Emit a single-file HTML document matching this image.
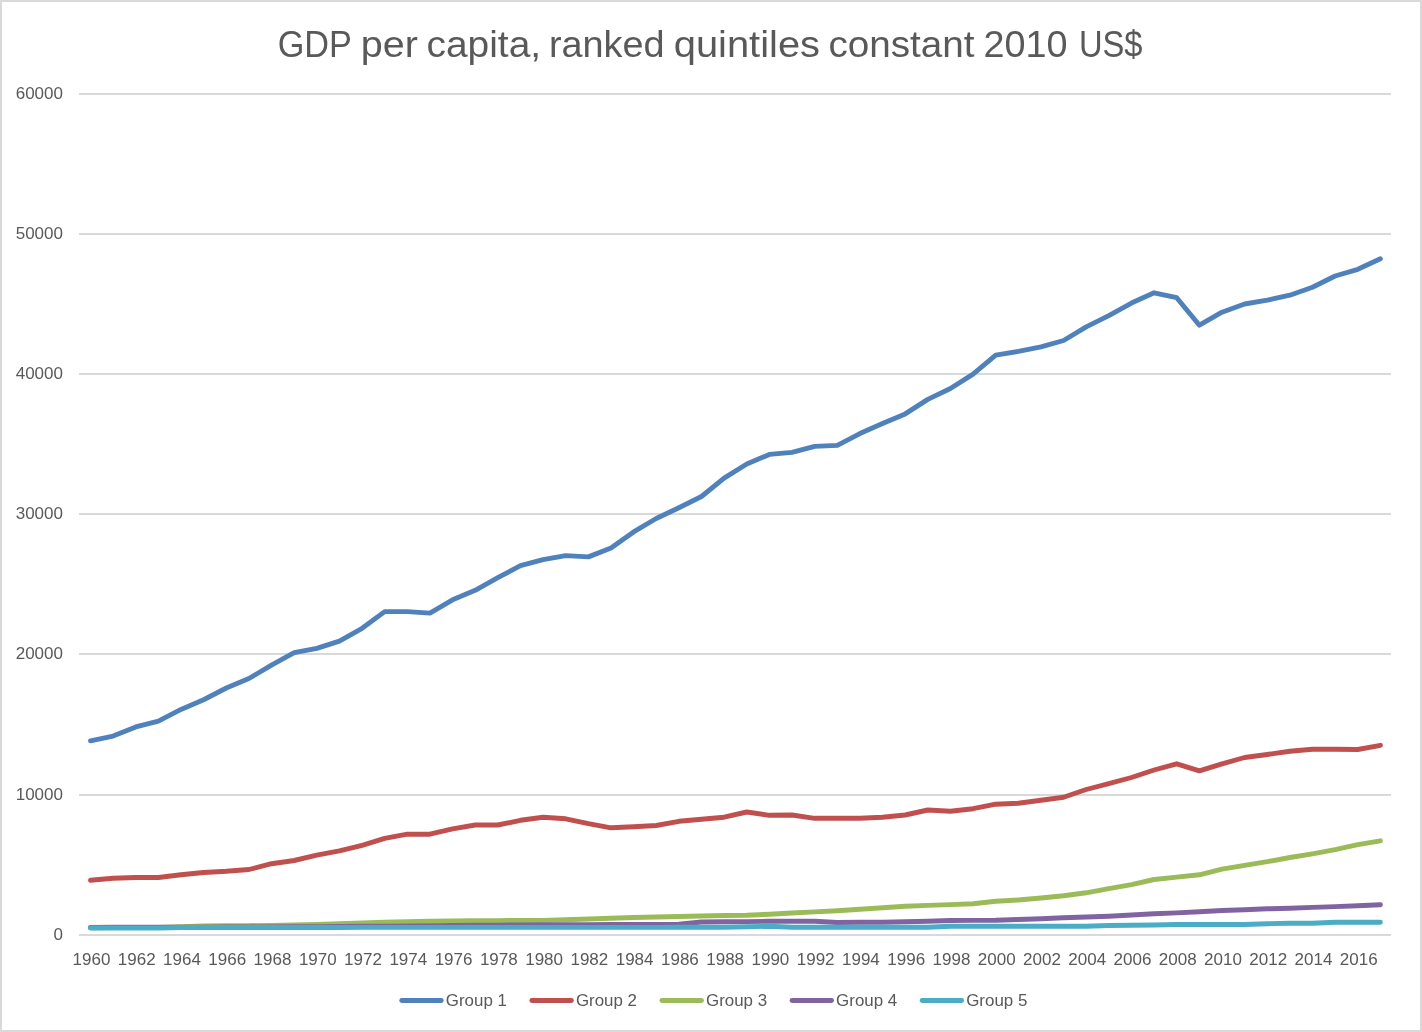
<!DOCTYPE html>
<html lang="en">
<head>
<meta charset="utf-8">
<title>GDP per capita, ranked quintiles constant 2010 US$</title>
<style>
html,body{margin:0;padding:0;background:#fff;}
body{width:1422px;height:1032px;overflow:hidden;}
svg{display:block;}
text{font-family:"Liberation Sans",sans-serif;fill:#595959;}
.t{font-size:37.5px;}
.s{font-size:16.9px;}
.g line{stroke:#D9D9D9;stroke-width:2;}
.l path{fill:none;stroke-width:4.9;stroke-linecap:round;stroke-linejoin:round;}
</style>
</head>
<body>
<svg width="1422" height="1032" viewBox="0 0 1422 1032">
<rect x="0" y="0" width="1422" height="1032" fill="#fff"/>
<rect x="1" y="1" width="1420" height="1030" fill="none" stroke="#D9D9D9" stroke-width="2"/>
<text class="t" y="56.90"><tspan x="277.70" textLength="73.60" lengthAdjust="spacingAndGlyphs">GDP</tspan> <tspan x="360.88" textLength="57.12" lengthAdjust="spacingAndGlyphs">per</tspan> <tspan x="426.45" textLength="114.71" lengthAdjust="spacingAndGlyphs">capita,</tspan> <tspan x="548.92" textLength="115.66" lengthAdjust="spacingAndGlyphs">ranked</tspan> <tspan x="673.75" textLength="146.28" lengthAdjust="spacingAndGlyphs">quintiles</tspan> <tspan x="828.47" textLength="146.03" lengthAdjust="spacingAndGlyphs">constant</tspan> <tspan x="983.42" textLength="84.13" lengthAdjust="spacingAndGlyphs">2010</tspan> <tspan x="1078.93" textLength="63.60" lengthAdjust="spacingAndGlyphs">US$</tspan></text>
<g class="g">
<line x1="79" y1="935.00" x2="1391" y2="935.00"/>
<line x1="79" y1="795.00" x2="1391" y2="795.00"/>
<line x1="79" y1="654.00" x2="1391" y2="654.00"/>
<line x1="79" y1="514.00" x2="1391" y2="514.00"/>
<line x1="79" y1="374.00" x2="1391" y2="374.00"/>
<line x1="79" y1="234.00" x2="1391" y2="234.00"/>
<line x1="79" y1="94.00" x2="1391" y2="94.00"/>
</g>
<g class="s">
<text x="63" y="940.00" text-anchor="end" textLength="9.46" lengthAdjust="spacingAndGlyphs">0</text>
<text x="63" y="800.00" text-anchor="end" textLength="47.30" lengthAdjust="spacingAndGlyphs">10000</text>
<text x="63" y="659.00" text-anchor="end" textLength="47.30" lengthAdjust="spacingAndGlyphs">20000</text>
<text x="63" y="519.00" text-anchor="end" textLength="47.30" lengthAdjust="spacingAndGlyphs">30000</text>
<text x="63" y="379.00" text-anchor="end" textLength="47.30" lengthAdjust="spacingAndGlyphs">40000</text>
<text x="63" y="239.00" text-anchor="end" textLength="47.30" lengthAdjust="spacingAndGlyphs">50000</text>
<text x="63" y="99.00" text-anchor="end" textLength="47.30" lengthAdjust="spacingAndGlyphs">60000</text>
<text x="91.50" y="964.8" text-anchor="middle" textLength="37.85" lengthAdjust="spacingAndGlyphs">1960</text>
<text x="136.76" y="964.8" text-anchor="middle" textLength="37.85" lengthAdjust="spacingAndGlyphs">1962</text>
<text x="182.02" y="964.8" text-anchor="middle" textLength="37.85" lengthAdjust="spacingAndGlyphs">1964</text>
<text x="227.28" y="964.8" text-anchor="middle" textLength="37.85" lengthAdjust="spacingAndGlyphs">1966</text>
<text x="272.54" y="964.8" text-anchor="middle" textLength="37.85" lengthAdjust="spacingAndGlyphs">1968</text>
<text x="317.80" y="964.8" text-anchor="middle" textLength="37.85" lengthAdjust="spacingAndGlyphs">1970</text>
<text x="363.06" y="964.8" text-anchor="middle" textLength="37.85" lengthAdjust="spacingAndGlyphs">1972</text>
<text x="408.32" y="964.8" text-anchor="middle" textLength="37.85" lengthAdjust="spacingAndGlyphs">1974</text>
<text x="453.58" y="964.8" text-anchor="middle" textLength="37.85" lengthAdjust="spacingAndGlyphs">1976</text>
<text x="498.84" y="964.8" text-anchor="middle" textLength="37.85" lengthAdjust="spacingAndGlyphs">1978</text>
<text x="544.10" y="964.8" text-anchor="middle" textLength="37.85" lengthAdjust="spacingAndGlyphs">1980</text>
<text x="589.36" y="964.8" text-anchor="middle" textLength="37.85" lengthAdjust="spacingAndGlyphs">1982</text>
<text x="634.62" y="964.8" text-anchor="middle" textLength="37.85" lengthAdjust="spacingAndGlyphs">1984</text>
<text x="679.88" y="964.8" text-anchor="middle" textLength="37.85" lengthAdjust="spacingAndGlyphs">1986</text>
<text x="725.14" y="964.8" text-anchor="middle" textLength="37.85" lengthAdjust="spacingAndGlyphs">1988</text>
<text x="770.40" y="964.8" text-anchor="middle" textLength="37.85" lengthAdjust="spacingAndGlyphs">1990</text>
<text x="815.66" y="964.8" text-anchor="middle" textLength="37.85" lengthAdjust="spacingAndGlyphs">1992</text>
<text x="860.92" y="964.8" text-anchor="middle" textLength="37.85" lengthAdjust="spacingAndGlyphs">1994</text>
<text x="906.18" y="964.8" text-anchor="middle" textLength="37.85" lengthAdjust="spacingAndGlyphs">1996</text>
<text x="951.44" y="964.8" text-anchor="middle" textLength="37.85" lengthAdjust="spacingAndGlyphs">1998</text>
<text x="996.70" y="964.8" text-anchor="middle" textLength="37.85" lengthAdjust="spacingAndGlyphs">2000</text>
<text x="1041.96" y="964.8" text-anchor="middle" textLength="37.85" lengthAdjust="spacingAndGlyphs">2002</text>
<text x="1087.22" y="964.8" text-anchor="middle" textLength="37.85" lengthAdjust="spacingAndGlyphs">2004</text>
<text x="1132.48" y="964.8" text-anchor="middle" textLength="37.85" lengthAdjust="spacingAndGlyphs">2006</text>
<text x="1177.74" y="964.8" text-anchor="middle" textLength="37.85" lengthAdjust="spacingAndGlyphs">2008</text>
<text x="1223.00" y="964.8" text-anchor="middle" textLength="37.85" lengthAdjust="spacingAndGlyphs">2010</text>
<text x="1268.26" y="964.8" text-anchor="middle" textLength="37.85" lengthAdjust="spacingAndGlyphs">2012</text>
<text x="1313.52" y="964.8" text-anchor="middle" textLength="37.85" lengthAdjust="spacingAndGlyphs">2014</text>
<text x="1358.78" y="964.8" text-anchor="middle" textLength="37.85" lengthAdjust="spacingAndGlyphs">2016</text>
</g>
<g class="l">
<path stroke="#4F81BD" d="M90.5 740.8 L113.1 736.1 L135.8 726.9 L158.4 721.1 L181.0 709.4 L203.6 699.7 L226.3 688.0 L248.9 678.5 L271.5 665.2 L294.2 652.7 L316.8 648.4 L339.4 641.1 L362.1 628.3 L384.7 611.6 L407.3 611.6 L429.9 613.1 L452.6 599.8 L475.2 590.3 L497.8 577.7 L520.5 565.6 L543.1 559.7 L565.7 555.6 L588.4 556.9 L611.0 548.0 L633.6 531.9 L656.2 518.5 L678.9 507.7 L701.5 496.5 L724.1 478.1 L746.8 464.0 L769.4 454.4 L792.0 452.4 L814.7 446.4 L837.3 445.4 L859.9 433.6 L882.5 423.6 L905.2 413.9 L927.8 399.4 L950.4 388.5 L973.1 374.1 L995.7 355.2 L1018.3 351.4 L1041.0 346.9 L1063.6 340.5 L1086.2 326.9 L1108.8 315.6 L1131.5 303.1 L1154.1 292.8 L1176.7 297.7 L1199.4 325.2 L1222.0 312.2 L1244.6 304.0 L1267.3 300.2 L1289.9 295.2 L1312.5 287.2 L1335.1 276.0 L1357.8 269.3 L1380.4 258.8"/>
<path stroke="#C0504D" d="M90.5 880.3 L113.1 878.3 L135.8 877.5 L158.4 877.5 L181.0 874.7 L203.6 872.5 L226.3 871.3 L248.9 869.5 L271.5 863.7 L294.2 860.5 L316.8 855.2 L339.4 850.8 L362.1 845.3 L384.7 838.3 L407.3 834.2 L429.9 834.2 L452.6 828.8 L475.2 825.0 L497.8 825.0 L520.5 820.3 L543.1 817.3 L565.7 818.8 L588.4 823.7 L611.0 827.8 L633.6 826.7 L656.2 825.5 L678.9 821.3 L701.5 819.2 L724.1 817.2 L746.8 812.0 L769.4 815.3 L792.0 815.0 L814.7 818.3 L837.3 818.3 L859.9 818.3 L882.5 817.2 L905.2 815.0 L927.8 810.0 L950.4 811.3 L973.1 808.7 L995.7 804.2 L1018.3 803.3 L1041.0 800.3 L1063.6 797.2 L1086.2 789.5 L1108.8 783.7 L1131.5 777.5 L1154.1 770.0 L1176.7 763.8 L1199.4 770.8 L1222.0 763.8 L1244.6 757.5 L1267.3 754.5 L1289.9 751.3 L1312.5 749.2 L1335.1 749.2 L1357.8 749.5 L1380.4 745.3"/>
<path stroke="#9BBB59" d="M90.5 927.7 L113.1 927.6 L135.8 927.5 L158.4 927.4 L181.0 926.7 L203.6 925.9 L226.3 925.8 L248.9 925.6 L271.5 925.5 L294.2 925.0 L316.8 924.5 L339.4 923.7 L362.1 922.9 L384.7 922.2 L407.3 921.7 L429.9 921.3 L452.6 920.9 L475.2 920.8 L497.8 920.6 L520.5 920.5 L543.1 920.4 L565.7 919.7 L588.4 919.0 L611.0 918.2 L633.6 917.5 L656.2 917.0 L678.9 916.5 L701.5 916.0 L724.1 915.5 L746.8 915.3 L769.4 914.2 L792.0 913.0 L814.7 911.9 L837.3 910.8 L859.9 909.3 L882.5 907.8 L905.2 906.3 L927.8 905.4 L950.4 904.6 L973.1 903.7 L995.7 901.3 L1018.3 900.0 L1041.0 898.0 L1063.6 895.8 L1086.2 892.8 L1108.8 888.7 L1131.5 884.7 L1154.1 879.5 L1176.7 877.1 L1199.4 874.8 L1222.0 869.2 L1244.6 865.3 L1267.3 861.7 L1289.9 857.5 L1312.5 853.8 L1335.1 849.7 L1357.8 844.7 L1380.4 840.8"/>
<path stroke="#8064A2" d="M90.5 927.4 L113.1 927.3 L135.8 927.2 L158.4 927.2 L181.0 927.1 L203.6 927.1 L226.3 927.0 L248.9 926.9 L271.5 926.9 L294.2 926.8 L316.8 926.7 L339.4 926.5 L362.1 926.3 L384.7 926.1 L407.3 925.9 L429.9 925.7 L452.6 925.5 L475.2 925.3 L497.8 925.1 L520.5 924.9 L543.1 924.7 L565.7 924.6 L588.4 924.6 L611.0 924.5 L633.6 924.4 L656.2 924.4 L678.9 924.3 L701.5 922.0 L724.1 921.8 L746.8 921.6 L769.4 921.3 L792.0 921.3 L814.7 921.3 L837.3 922.5 L859.9 922.3 L882.5 922.2 L905.2 921.7 L927.8 921.3 L950.4 920.5 L973.1 920.4 L995.7 920.3 L1018.3 919.5 L1041.0 918.8 L1063.6 917.8 L1086.2 917.0 L1108.8 916.2 L1131.5 915.0 L1154.1 913.8 L1176.7 912.9 L1199.4 911.7 L1222.0 910.5 L1244.6 909.7 L1267.3 908.8 L1289.9 908.2 L1312.5 907.4 L1335.1 906.6 L1357.8 905.7 L1380.4 904.7"/>
<path stroke="#4BACC6" d="M90.5 928.0 L113.1 928.0 L135.8 928.0 L158.4 928.0 L181.0 927.5 L203.6 927.5 L226.3 927.5 L248.9 927.5 L271.5 927.5 L294.2 927.5 L316.8 927.5 L339.4 927.5 L362.1 927.4 L384.7 927.4 L407.3 927.4 L429.9 927.4 L452.6 927.4 L475.2 927.4 L497.8 927.4 L520.5 927.4 L543.1 927.4 L565.7 927.4 L588.4 927.4 L611.0 927.4 L633.6 927.4 L656.2 927.4 L678.9 927.3 L701.5 927.3 L724.1 927.3 L746.8 926.7 L769.4 926.3 L792.0 927.2 L814.7 927.2 L837.3 927.2 L859.9 927.2 L882.5 927.2 L905.2 927.2 L927.8 927.2 L950.4 926.3 L973.1 926.3 L995.7 926.3 L1018.3 926.3 L1041.0 926.3 L1063.6 926.3 L1086.2 926.3 L1108.8 925.5 L1131.5 925.3 L1154.1 925.0 L1176.7 924.5 L1199.4 924.5 L1222.0 924.5 L1244.6 924.5 L1267.3 923.7 L1289.9 923.3 L1312.5 923.3 L1335.1 922.3 L1357.8 922.3 L1380.4 922.3"/>
</g>
<g class="l s">
<path stroke="#4F81BD" d="M401.75 1000.45 H441.25"/>
<text x="445.80" y="1006.3" textLength="61.1" lengthAdjust="spacingAndGlyphs">Group 1</text>
<path stroke="#C0504D" d="M531.85 1000.45 H571.35"/>
<text x="575.90" y="1006.3" textLength="61.1" lengthAdjust="spacingAndGlyphs">Group 2</text>
<path stroke="#9BBB59" d="M661.95 1000.45 H701.45"/>
<text x="706.00" y="1006.3" textLength="61.1" lengthAdjust="spacingAndGlyphs">Group 3</text>
<path stroke="#8064A2" d="M792.05 1000.45 H831.55"/>
<text x="836.10" y="1006.3" textLength="61.1" lengthAdjust="spacingAndGlyphs">Group 4</text>
<path stroke="#4BACC6" d="M922.15 1000.45 H961.65"/>
<text x="966.20" y="1006.3" textLength="61.1" lengthAdjust="spacingAndGlyphs">Group 5</text>
</g>
</svg>
</body>
</html>
